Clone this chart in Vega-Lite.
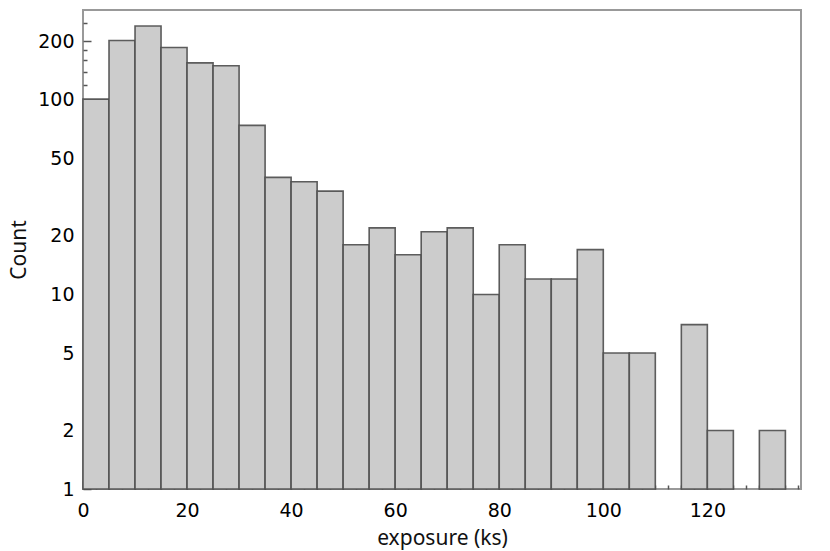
{
  "$schema": "https://vega.github.io/schema/vega-lite/v6.json",
  "autosize": {"type": "none"},
  "padding": {"left": 83, "top": 10, "right": 29, "bottom": 62},
  "width": 718,
  "height": 479,
  "background": "white",
  "config": {
    "view": {"stroke": "#999999", "strokeWidth": 2},
    "axis": {"domain": false, "grid": false}
  },
  "data": {
    "values": [
      {"start": 0, "end": 5, "count": 101},
      {"start": 5, "end": 10, "count": 202},
      {"start": 10, "end": 15, "count": 240},
      {"start": 15, "end": 20, "count": 186},
      {"start": 20, "end": 25, "count": 155},
      {"start": 25, "end": 30, "count": 150},
      {"start": 30, "end": 35, "count": 74},
      {"start": 35, "end": 40, "count": 40},
      {"start": 40, "end": 45, "count": 38},
      {"start": 45, "end": 50, "count": 34},
      {"start": 50, "end": 55, "count": 18},
      {"start": 55, "end": 60, "count": 22},
      {"start": 60, "end": 65, "count": 16},
      {"start": 65, "end": 70, "count": 21},
      {"start": 70, "end": 75, "count": 22},
      {"start": 75, "end": 80, "count": 10},
      {"start": 80, "end": 85, "count": 18},
      {"start": 85, "end": 90, "count": 12},
      {"start": 90, "end": 95, "count": 12},
      {"start": 95, "end": 100, "count": 17},
      {"start": 100, "end": 105, "count": 5},
      {"start": 105, "end": 110, "count": 5},
      {"start": 115, "end": 120, "count": 7},
      {"start": 120, "end": 125, "count": 2},
      {"start": 130, "end": 135, "count": 2}
    ]
  },
  "layer": [
    {
      "mark": {"type": "bar", "fill": "#cccccc", "stroke": "#4d4d4d", "strokeWidth": 1.6, "strokeOpacity": 0.9},
      "encoding": {
        "x": {
          "field": "start", "type": "quantitative",
          "scale": {"domain": [0, 138], "nice": false, "zero": false},
          "axis": {
            "title": "exposure (ks)",
            "titleFont": "Noto Sans", "titleFontSize": 21, "titleFontWeight": "normal", "titleColor": "#111111", "titlePadding": 7,
            "values": [0, 20, 40, 60, 80, 100, 120],
            "labelFont": "DejaVu Sans", "labelFontSize": 19, "labelColor": "#000000", "labelFlush": false,
            "tickSize": -8, "tickColor": "#555555", "tickWidth": 1.5, "labelPadding": 20
          }
        },
        "x2": {"field": "end"},
        "y": {
          "field": "count", "type": "quantitative",
          "scale": {"type": "log", "domain": [1, 290], "nice": false},
          "axis": {
            "title": "Count",
            "titleFont": "Noto Sans", "titleFontSize": 21, "titleFontWeight": "normal", "titleColor": "#111111", "titlePadding": 8,
            "values": [1, 2, 5, 10, 20, 50, 100, 200],
            "format": "d",
            "labelFont": "DejaVu Sans", "labelFontSize": 19, "labelColor": "#000000", "labelFlush": false,
            "tickSize": -8, "tickColor": "#555555", "tickWidth": 1.5, "labelPadding": 17
          }
        },
        "y2": {"datum": 1}
      }
    },
    {
      "mark": {"type": "bar", "opacity": 0},
      "encoding": {
        "x": {
          "field": "start", "type": "quantitative",
          "axis": {
            "orient": "bottom", "title": null, "labels": false,
            "values": [2.5, 5, 7.5, 10, 12.5, 15, 17.5, 22.5, 25, 27.5, 30, 32.5, 35, 37.5, 42.5, 45, 47.5, 50, 52.5, 55, 57.5, 62.5, 65, 67.5, 70, 72.5, 75, 77.5, 82.5, 85, 87.5, 90, 92.5, 95, 97.5, 102.5, 105, 107.5, 110, 112.5, 115, 117.5, 122.5, 125, 127.5, 130, 132.5, 135, 137.5],
            "tickSize": -4, "tickColor": "#555555", "tickWidth": 1.5
          }
        },
        "x2": {"field": "end"},
        "y": {
          "field": "count", "type": "quantitative",
          "axis": {
            "orient": "left", "title": null, "labels": false,
            "values": [3, 4, 6, 7, 8, 9, 30, 40, 60, 70, 80, 90, 120, 140, 160, 180, 250],
            "tickSize": -4, "tickColor": "#555555", "tickWidth": 1.5
          }
        },
        "y2": {"datum": 1}
      }
    }
  ],
  "resolve": {"axis": {"x": "independent", "y": "independent"}}
}
